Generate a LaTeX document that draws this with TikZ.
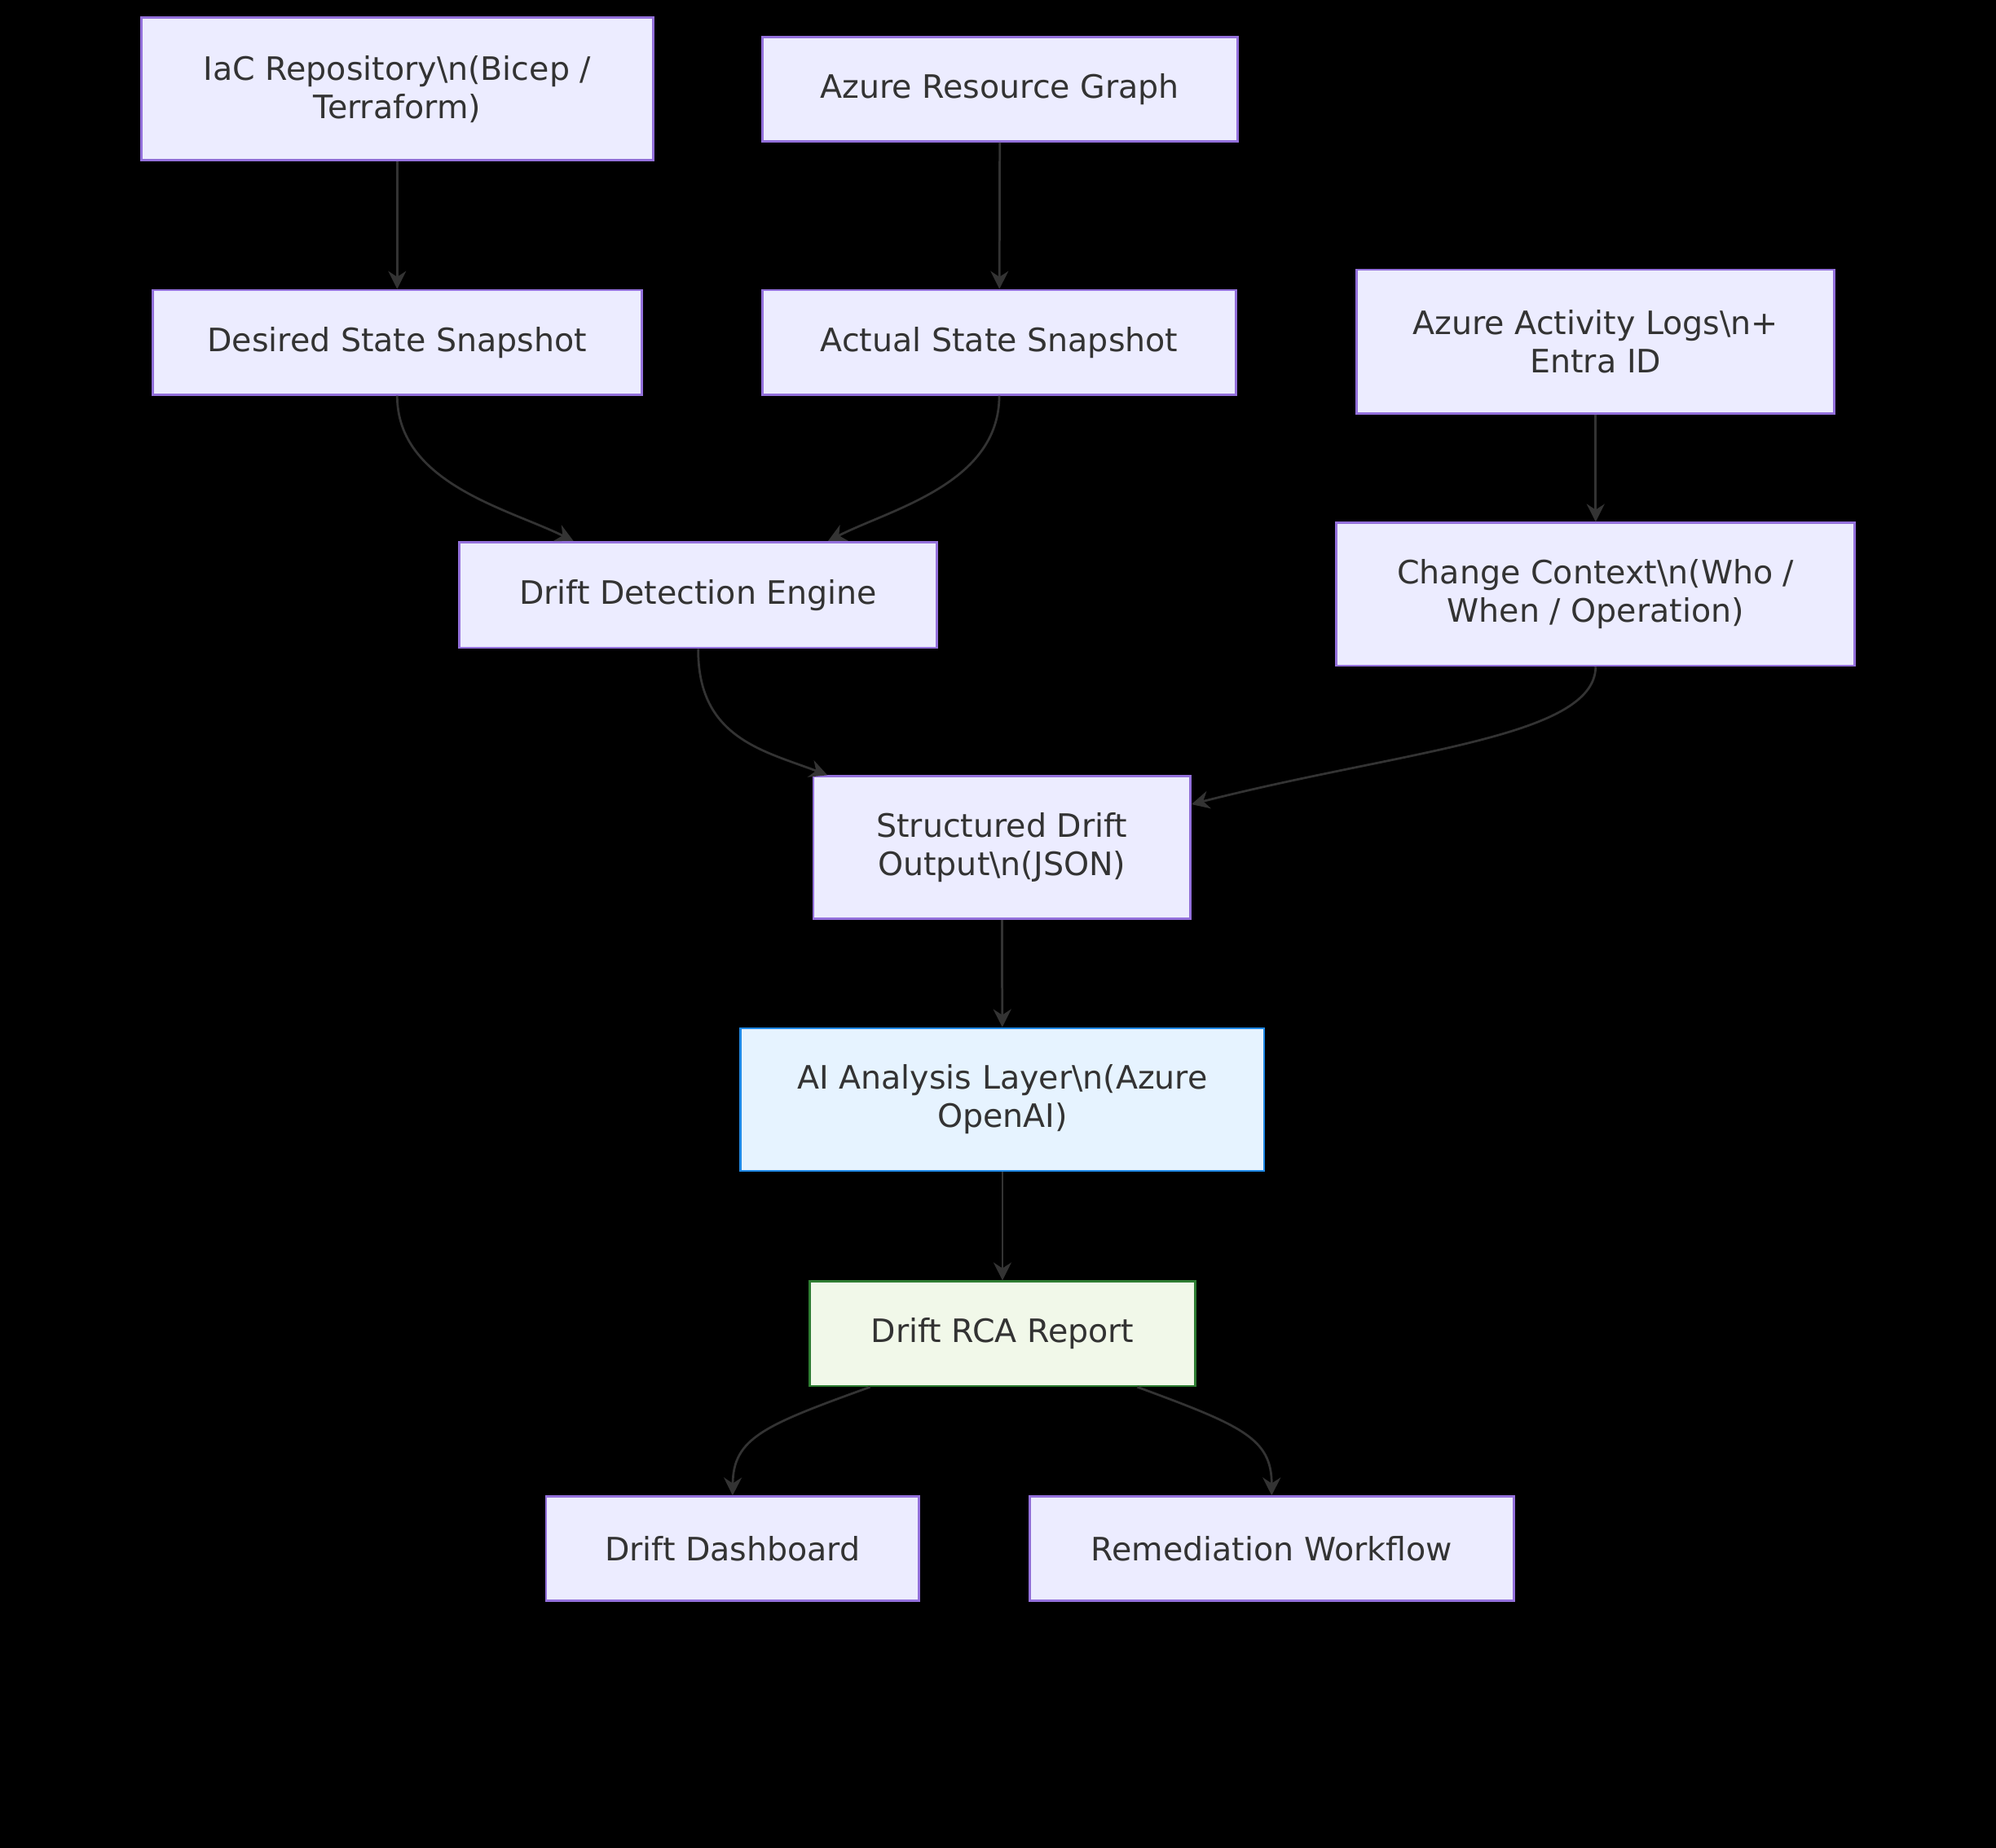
\documentclass[tikz,border=0pt]{standalone}
\usepackage{fontspec}
\setmainfont{DejaVu Sans}
\usetikzlibrary{calc}
\usetikzlibrary{arrows.meta}
\definecolor{boxfill}{HTML}{ECECFF}
\definecolor{boxline}{HTML}{9370DB}
\definecolor{aifill}{HTML}{E6F3FF}
\definecolor{ailine}{HTML}{1E88E5}
\definecolor{rcafill}{HTML}{F1F8E9}
\definecolor{rcaline}{HTML}{2E7D32}
\definecolor{ink}{HTML}{333333}
\newcommand{\nl}{\textbackslash n}
\tikzset{
 flowbox/.style={draw=boxline, fill=boxfill, line width=0.5pt, text=ink, align=center, inner sep=0pt, font=\fontsize{7.2pt}{8.6pt}\selectfont},
 flowline/.style={draw=ink, line width=0.5pt, -{Stealth[length=4pt,width=4pt]}}
}
\begin{document}
\begin{tikzpicture} [x=0.01cm, y=-0.01cm]
\fill[black] (0,0) rectangle (1568,1452);
\useasboundingbox (0,0) rectangle (1568,1452);

\node[flowbox, minimum width=4.02cm, minimum height=1.12cm] (iac) at (312,70) {IaC Repository\nl(Bicep /\\Terraform)};
\node[flowbox, minimum width=3.73cm, minimum height=0.82cm] (graph) at (785.5,70) {Azure Resource Graph};
\node[flowbox, minimum width=3.84cm, minimum height=0.82cm] (desired) at (312,269) {Desired State Snapshot};
\node[flowbox, minimum width=3.72cm, minimum height=0.82cm] (actual) at (785,269) {Actual State Snapshot};
\node[flowbox, minimum width=3.75cm, minimum height=1.13cm] (logs) at (1253.5,268.5) {Azure Activity Logs\nl+\\Entra ID};
\node[flowbox, minimum width=3.75cm, minimum height=0.83cm] (engine) at (548.5,467.5) {Drift Detection Engine};
\node[flowbox, minimum width=4.07cm, minimum height=1.12cm] (context) at (1253.5,467) {Change Context\nl(Who /\\When / Operation)};
\node[flowbox, minimum width=2.96cm, minimum height=1.12cm] (output) at (787,666) {Structured Drift\\Output\nl(JSON)};
\node[flowbox, draw=ailine, fill=aifill, minimum width=4.11cm, minimum height=1.12cm] (ai) at (787.5,864) {AI Analysis Layer\nl(Azure\\OpenAI)};
\node[flowbox, draw=rcaline, fill=rcafill, minimum width=3.03cm, minimum height=0.82cm] (rca) at (787.5,1048) {Drift RCA Report};
\node[flowbox, minimum width=2.93cm, minimum height=0.82cm] (dash) at (575.5,1217) {Drift Dashboard};
\node[flowbox, minimum width=3.80cm, minimum height=0.82cm] (remedy) at (999,1217) {Remediation Workflow};

\draw[flowline] (iac) -- (desired);
\draw[flowline] (graph) -- (actual);
\draw[flowline] (logs) -- (context);
\draw[flowline] (desired.south) .. controls (312,380) and (400,400) .. ($(engine.north)+(-98,0)$);
\draw[flowline] (actual.south) .. controls (785,380) and (700,400) .. ($(engine.north)+(102,0)$);
\draw[flowline] (engine.south) .. controls (548,580) and (600,590) .. ($(output.north)+(-137,0)$);
\draw[flowline] (context.south) .. controls (1253,580) and (1100,590) .. ($(output.east)+(0,-34)$);
\draw[flowline] (output) -- (ai);
\draw[flowline] (ai) -- (rca);
\draw[flowline] ($(rca.south)+(-104,0)$) .. controls (600,1120) and (576,1130) .. (dash.north);
\draw[flowline] ($(rca.south)+(106,0)$) .. controls (975,1120) and (999,1130) .. (remedy.north);
\end{tikzpicture}
\end{document}
